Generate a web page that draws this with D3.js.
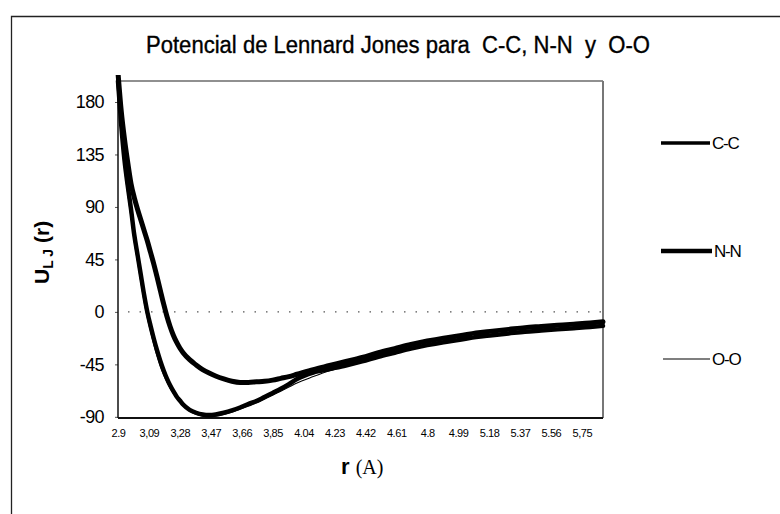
<!DOCTYPE html>
<html>
<head>
<meta charset="utf-8">
<script src="https://cdn.jsdelivr.net/npm/d3@7"></script>
<style>
  body { margin: 0; background: #fff; }
  text { font-family: "Liberation Sans", Arial, sans-serif; fill: #000; }
</style>
</head>
<body>
<svg id="chart" width="780" height="514"></svg>
<script>
// Interatomic distance r (Å)
const radii = [2.90, 2.92, 2.94, 2.96, 2.98, 3.00, 3.02, 3.04, 3.06, 3.08,
               3.10, 3.12, 3.14, 3.16, 3.18, 3.20, 3.22, 3.24, 3.26, 3.28,
               3.30, 3.34, 3.38, 3.42, 3.46, 3.50, 3.55, 3.60, 3.65, 3.70,
               3.75, 3.80, 3.85, 3.90, 3.95, 4.00, 4.10, 4.20, 4.30, 4.40,
               4.50, 4.60, 4.70, 4.80, 4.90, 5.00, 5.10, 5.20, 5.30, 5.40,
               5.50, 5.60, 5.70, 5.80, 5.88];

// U_LJ(r) for each pair
const ccValues = [198, 160, 130, 108, 88, 66, 49, 32, 15, 0,
                  -12, -23, -33, -42, -50, -57, -63, -68, -72.5, -76,
                  -79.5, -84, -86.5, -88, -88.5, -88, -86.5, -84.5, -82, -79,
                  -76.5, -73, -69.5, -66, -62, -57.5, -52, -49, -46, -42.5,
                  -38.5, -35, -31.5, -28.5, -26, -24, -21.5, -20, -18.5, -17,
                  -16, -15, -14, -13, -12];

const nnValues = [205, 172, 148, 128, 110, 98, 88, 79, 70, 61,
                  51, 41, 30, 18.5, 7, -3.5, -12.5, -20, -26, -31,
                  -35, -41, -45.5, -49.5, -52.5, -55, -57.5, -59.5, -60.5, -60.5,
                  -60, -59.5, -58.5, -57, -55.5, -53.5, -49.5, -46, -42.5, -39,
                  -35, -31.5, -28, -25, -22.5, -20.5, -18, -16.5, -15, -13.5,
                  -12.5, -11.5, -10.5, -9.5, -8.5];

const ooValues = [192, 152, 123, 101, 81, 60, 43, 26, 9, -5,
                  -17, -28, -38, -47, -54, -60, -65.5, -70, -74, -77.5,
                  -80.5, -85, -88, -89.5, -90, -89.5, -88, -86, -83.5, -81,
                  -78, -75, -71.5, -68, -64.5, -61, -55.5, -50.5, -46.5, -43,
                  -39, -35.5, -32, -29, -26.5, -24.5, -22, -20.5, -19, -17.5,
                  -16.5, -15.5, -14.5, -13.5, -12.5];

const seriesNames = ["C-C", "N-N", "O-O"];
const yTickValues = [-90, -45, 0, 45, 90, 135, 180];
const xTickValues = [2.90, 3.09, 3.28, 3.47, 3.66, 3.85, 4.04, 4.23, 4.42,
                     4.61, 4.80, 4.99, 5.18, 5.37, 5.56, 5.75];
const xTickLabels = ["2.9", "3,09", "3,28", "3,47", "3,66", "3,85", "4.04", "4.23", "4.42",
                     "4.61", "4.8", "4.99", "5.18", "5.37", "5.56", "5,75"];

const svg = d3.select("#chart");

// plot area
const plot = { left: 118, right: 603, top: 81, bottom: 418 };

const x = d3.scaleLinear().domain([2.90, 5.88]).range([plot.left, plot.right]);
const y = d3.scaleLinear().domain([-91, 198]).range([plot.bottom, plot.top]);

// outer chart frame (left and top edges)
svg.append("path")
  .attr("d", "M11.5,514 L11.5,16.5 L780,16.5")
  .attr("fill", "none").attr("stroke", "#222").attr("stroke-width", 1.3);

// title
svg.append("text")
  .attr("x", 146).attr("y", 53)
  .attr("textLength", 504).attr("lengthAdjust", "spacingAndGlyphs")
  .style("font-size", "23px").style("white-space", "pre")
  .style("stroke", "#000").style("stroke-width", "0.35px")
  .text("Potencial de Lennard Jones para  C-C, N-N  y  O-O");

// clip for curves
svg.append("defs").append("clipPath").attr("id", "plotClip")
  .append("rect")
  .attr("x", plot.left - 3).attr("y", plot.top - 6)
  .attr("width", plot.right - plot.left + 6).attr("height", plot.bottom - plot.top + 8);

// zero reference line
svg.append("line")
  .attr("x1", plot.left + 10).attr("x2", plot.right)
  .attr("y1", y(0)).attr("y2", y(0))
  .attr("stroke", "#555").attr("stroke-width", 1.2)
  .attr("stroke-dasharray", "1.5,10");

// plot borders
svg.append("line").attr("x1", plot.left).attr("x2", plot.right)
  .attr("y1", plot.top).attr("y2", plot.top)
  .attr("stroke", "#222").attr("stroke-width", 1.2);
svg.append("line").attr("x1", plot.right).attr("x2", plot.right)
  .attr("y1", plot.top).attr("y2", plot.bottom)
  .attr("stroke", "#777").attr("stroke-width", 2);

// y axis
const yAxis = svg.append("g")
  .attr("transform", `translate(${plot.left},0)`)
  .call(d3.axisLeft(y).tickValues(yTickValues).tickSize(3).tickPadding(11)
        .tickFormat(d => String(d)));
yAxis.select(".domain").remove();
yAxis.selectAll(".tick line").attr("stroke", "#555");
yAxis.selectAll("text").style("font-size", "18px").style("letter-spacing", "-0.6px")
  .style("font-family", "'Liberation Sans', Arial, sans-serif");
svg.append("line").attr("x1", plot.left).attr("x2", plot.left)
  .attr("y1", plot.top - 6).attr("y2", plot.bottom)
  .attr("stroke", "#111").attr("stroke-width", 1.5);

// x axis
const xAxis = svg.append("g")
  .attr("transform", `translate(0,${plot.bottom})`)
  .call(d3.axisBottom(x).tickValues(xTickValues).tickSize(0).tickPadding(11)
        .tickFormat((d, i) => xTickLabels[i]));
xAxis.select(".domain").remove();
xAxis.selectAll("text").style("font-size", "11px").style("letter-spacing", "-0.4px")
  .style("font-family", "'Liberation Sans', Arial, sans-serif");
svg.append("line").attr("x1", plot.left).attr("x2", plot.right)
  .attr("y1", plot.bottom).attr("y2", plot.bottom)
  .attr("stroke", "#111").attr("stroke-width", 2);

// curves
const line = d3.line()
  .x((d, i) => x(radii[i]))
  .y(d => y(d))
  .curve(d3.curveMonotoneX);

const curves = svg.append("g").attr("clip-path", "url(#plotClip)");
const series = [
  { name: seriesNames[1], values: nnValues, width: 5 },
  { name: seriesNames[0], values: ccValues, width: 4.5 },
  { name: seriesNames[2], values: ooValues, width: 1.1 }
];
series.forEach(s => {
  curves.append("path")
    .attr("d", line(s.values))
    .attr("fill", "none")
    .attr("stroke", "#000")
    .attr("stroke-width", s.width)
    .attr("stroke-linejoin", "round")
    .attr("stroke-linecap", "round");
});

// y axis title: U_LJ (r)
const yTitle = svg.append("text")
  .attr("transform", "translate(49,284) rotate(-90)")
  .style("font-size", "21px").style("font-weight", "bold")
  .style("white-space", "pre");
yTitle.append("tspan").text("U");
yTitle.append("tspan").style("font-size", "14px").attr("dy", 4).text("L J");
yTitle.append("tspan").attr("dy", -4).text(" (r)");

// x axis title: r (A)
const xTitle = svg.append("text").attr("x", 341).attr("y", 474)
  .style("white-space", "pre");
xTitle.append("tspan").style("font-size", "22px").style("font-weight", "bold").text("r ");
xTitle.append("tspan").style("font-size", "20px")
  .style("font-family", "'Liberation Serif', 'Times New Roman', serif").text("(A)");

// legend
const legendItems = [
  { name: seriesNames[0], y: 143, width: 3.5, x1: 661, x2: 710 },
  { name: seriesNames[1], y: 251, width: 4.5, x1: 661, x2: 712 },
  { name: seriesNames[2], y: 359, width: 1.1, x1: 663, x2: 710 }
];
const legend = svg.append("g");
legendItems.forEach(it => {
  legend.append("line")
    .attr("x1", it.x1).attr("x2", it.x2).attr("y1", it.y).attr("y2", it.y)
    .attr("stroke", "#000").attr("stroke-width", it.width);
  legend.append("text")
    .attr("x", it.x2 + 2).attr("y", it.y + 6)
    .style("font-size", "17px").style("letter-spacing", "-1.2px")
    .text(it.name);
});
</script>
</body>
</html>
